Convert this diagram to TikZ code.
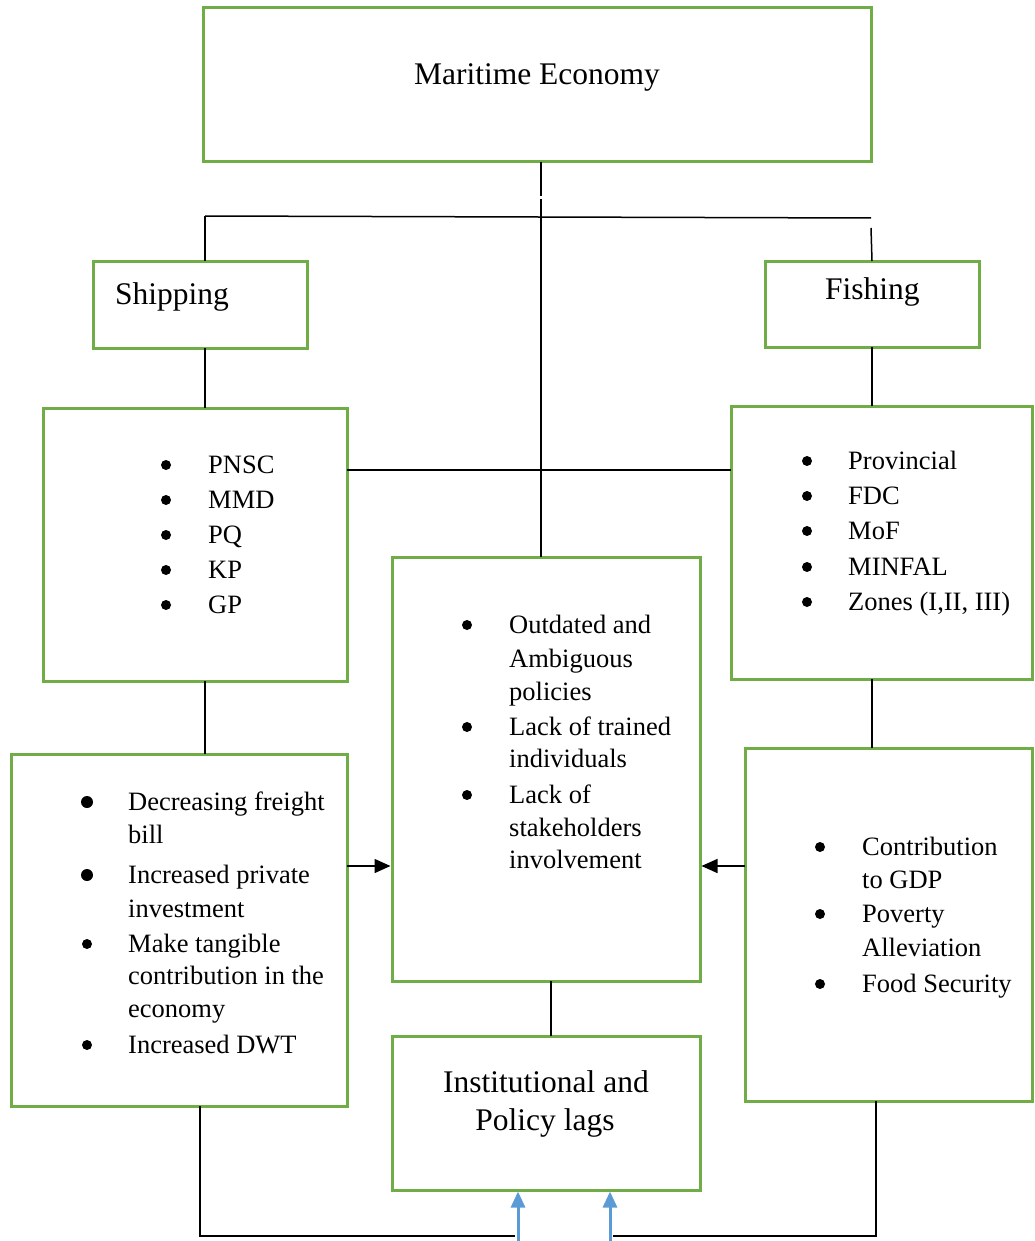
\documentclass[tikz,border=0pt]{standalone}
\usepackage{fontspec}
\setmainfont{Liberation Serif}
\usetikzlibrary{arrows.meta}
\definecolor{boxgreen}{HTML}{70AD47}
\definecolor{arrowblue}{HTML}{5B9BD5}

\begin{document}
\begin{tikzpicture}[x=1pt,y=-1pt,
  panel/.style={draw=boxgreen, line width=3pt, inner sep=0pt, outer sep=0pt, anchor=north west},
  link/.style={draw=black, line width=1.5pt},
  flow/.style={link, shorten >=1.5pt, -{Triangle[length=16pt,width=14pt]}},
  upflow/.style={draw=arrowblue, line width=3pt, shorten >=1.5pt, -{Triangle[length=16pt,width=14pt]}},
  headtxt/.style={font=\fontsize{31.5}{38}\selectfont, inner sep=0pt},
  txt/.style={font=\fontsize{26.5}{33}\selectfont, anchor=base west, inner sep=0pt},
  bul/.style={circle, fill=black, inner sep=0pt, minimum size=10pt},
]
\path[use as bounding box] (0,0) rectangle (1035,1241);

% boxes
\node[panel, minimum width=668pt, minimum height=154pt] (econ)     at (203,8)    {};
\node[panel, minimum width=214pt, minimum height=87pt]  (ship)     at (93,261)   {};
\node[panel, minimum width=214pt, minimum height=86pt]  (fish)     at (765,261)  {};
\node[panel, minimum width=304pt, minimum height=273pt] (agencies) at (43,408)   {};
\node[panel, minimum width=301pt, minimum height=273pt] (fishorg)  at (731,406)  {};
\node[panel, minimum width=308pt, minimum height=424pt] (issues)   at (392,557)  {};
\node[panel, minimum width=336pt, minimum height=352pt] (shipben)  at (11,754)   {};
\node[panel, minimum width=287pt, minimum height=353pt] (fishben)  at (745,748)  {};
\node[panel, minimum width=308pt, minimum height=154pt] (lags)     at (392,1036) {};

% headings
\node[headtxt, anchor=base] (econ-t) at (537,85) {Maritime Economy};
\node[headtxt, anchor=base west] (ship-t) at (115,304) {Shipping};
\node[headtxt, anchor=base west] (fish-t) at (825,299) {Fishing};
\node[headtxt, anchor=base] (lags-t1) at (546,1092) {Institutional and};
\node[headtxt, anchor=base] (lags-t2) at (545,1130) {Policy lags};

% shipping organisations
\foreach \y/\t [count=\i] in {473/PNSC, 508/MMD, 543/PQ, 578/KP, 613/GP} {
  \node[bul] (ag-b\i) at (166,\y-8) {};
  \node[txt] (ag-t\i) at (208,\y) {\t};
}
% fishing organisations
\foreach \y/\t [count=\i] in {469/Provincial, 504/FDC, 539/MoF, 575/MINFAL, 610/{Zones (I,II, III)}} {
  \node[bul] (fo-b\i) at (807,\y-8) {};
  \node[txt] (fo-t\i) at (848,\y) {\t};
}
% issues
\foreach \y [count=\i] in {633,735,803} \node[bul] (is-b\i) at (467,\y-8) {};
\foreach \y/\t [count=\i] in {633/Outdated and, 667/Ambiguous, 700/policies,
    735/Lack of trained, 767/individuals, 803/Lack of, 836/stakeholders, 868/involvement}
  \node[txt] (is-t\i) at (509,\y) {\t};
% shipping benefits
\foreach \y/\s [count=\i] in {810/12, 883/12, 952/10, 1053/10} \node[bul, minimum size=\s pt] (sb-b\i) at (87,\y-8) {};
\foreach \y/\t [count=\i] in {810/Decreasing freight, 843/bill, 883/Increased private, 917/investment,
    952/Make tangible, 984/contribution in the, 1017/economy, 1053/Increased DWT}
  \node[txt] (sb-t\i) at (128,\y) {\t};
% fishing benefits
\foreach \y [count=\i] in {855,922,992} \node[bul] (fb-b\i) at (820,\y-8) {};
\foreach \y/\t [count=\i] in {855/Contribution, 888/to GDP, 922/Poverty, 956/Alleviation, 992/Food Security}
  \node[txt] (fb-t\i) at (862,\y) {\t};

% tree connectors
\draw[link] (541,0 |- econ.south) -- (541,196);
\draw[link] (541,199) -- (541,0 |- issues.north);
\draw[link] (205,216) -- (871,218);
\draw[link] (205,216) -- (205,0 |- ship.north);
\draw[link] (871,228) -- (872,0 |- fish.north);
\draw[link] (205,0 |- ship.south) -- (205,0 |- agencies.north);
\draw[link] (872,0 |- fish.south) -- (872,0 |- fishorg.north);
\draw[link] (agencies.east |- 0,470) -- (fishorg.west |- 0,470);
\draw[link] (205,0 |- agencies.south) -- (205,0 |- shipben.north);
\draw[link] (872,0 |- fishorg.south) -- (872,0 |- fishben.north);
\draw[link] (551,0 |- issues.south) -- (551,0 |- lags.north);

% benefits feeding the issues box
\draw[flow] (shipben.east |- 0,866) -- (issues.west |- 0,866);
\draw[flow] (fishben.west |- 0,866) -- (issues.east |- 0,866);

% feedback loops into the lags box
\coordinate (feedL) at (518,1241);
\coordinate (feedR) at (610,1241);
\draw[link] (200,0 |- shipben.south) -- (200,1236) -- (515,1236);
\draw[link] (876,0 |- fishben.south) -- (876,1236) -- (613,1236);
\draw[upflow] (feedL) -- (518,0 |- lags.south);
\draw[upflow] (feedR) -- (610,0 |- lags.south);
\end{tikzpicture}
\end{document}
